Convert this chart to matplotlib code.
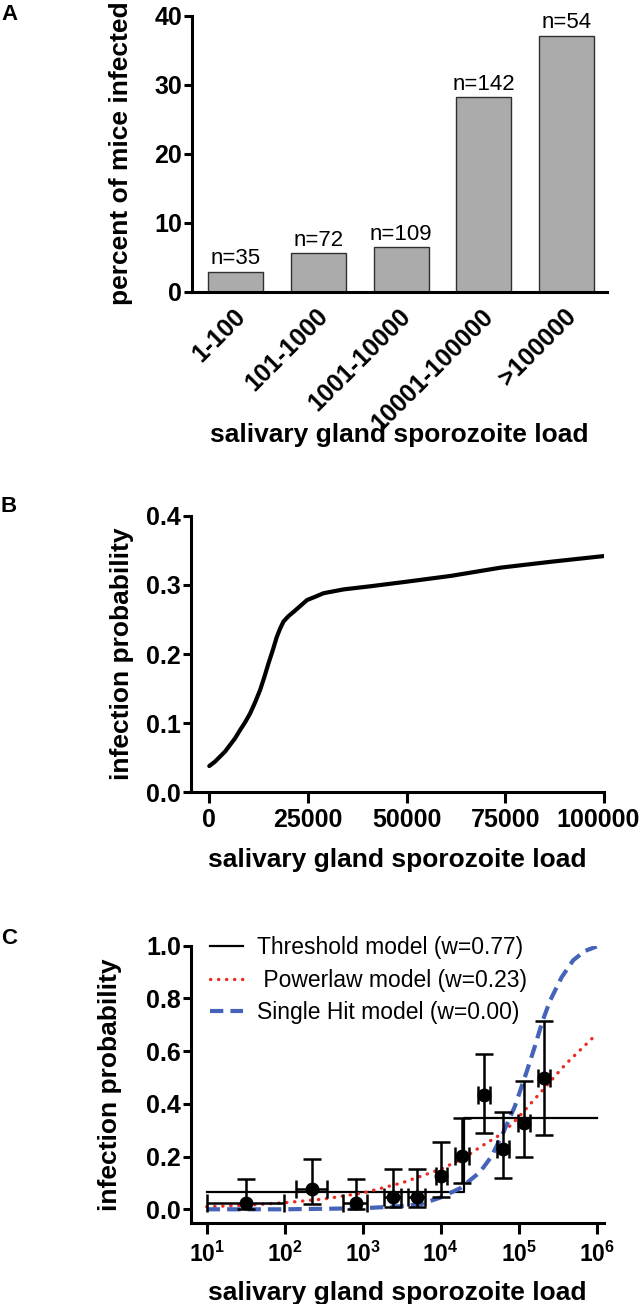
import matplotlib
matplotlib.use('Agg')
import matplotlib.pyplot as plt
import matplotlib.transforms as mtransforms

plt.rcParams['font.family'] = ['Liberation Sans', 'DejaVu Sans']
plt.rcParams['mathtext.fontset'] = 'custom'
plt.rcParams['mathtext.rm'] = 'Liberation Sans'
plt.rcParams['mathtext.bf'] = 'Liberation Sans:bold'
plt.rcParams['mathtext.it'] = 'Liberation Sans:italic'

# --- panel A: percent of mice infected per load bin ---
bins = ['1-100', '101-1000', '1001-10000', '10001-100000', '>100000']
pct_infected = [2.86, 5.56, 6.42, 28.17, 37.04]
n_mice = [35, 72, 109, 142, 54]

# --- panel B: infection probability curve ---
b_load = [0, 1440, 2710, 3980, 5250, 6530, 7800, 9070, 10340, 11610, 12880, 13980,
          15000, 16100, 17120, 17970, 18800, 20090, 21360, 23050, 24750, 26860,
          28980, 34070, 40850, 50000, 61200, 73900, 86650, 100000]
b_prob = [0.038, 0.0443, 0.0516, 0.0588, 0.0684, 0.0781, 0.090, 0.1012, 0.114, 0.1301,
          0.148, 0.1672, 0.1865, 0.2058, 0.225, 0.2371, 0.247, 0.2549, 0.261, 0.2694,
          0.278, 0.2829, 0.288, 0.2935, 0.298, 0.3046, 0.313, 0.325, 0.3335, 0.3417]

# --- panel C: binned data with errors and model fits ---
c_load = [32, 221, 817, 2480, 4940, 10200, 18600, 36300, 63500, 117000, 211000]
c_load_lo = [10, 140, 566, 1900, 3860, 8600, 15300, 30500, 53400, 98000, 177000]
c_load_hi = [99, 352, 1130, 3110, 6210, 12100, 22800, 43200, 75500, 139000, 251000]
c_prob = [0.023, 0.076, 0.023, 0.048, 0.048, 0.126, 0.202, 0.434, 0.228, 0.329, 0.499]
c_prob_lo = [0.0, 0.020, 0.0, 0.010, 0.010, 0.048, 0.101, 0.288, 0.120, 0.200, 0.282]
c_prob_hi = [0.114, 0.190, 0.114, 0.152, 0.152, 0.257, 0.348, 0.589, 0.370, 0.487, 0.716]

thr_load = [10, 20100, 20100, 1000000]
thr_prob = [0.0645, 0.0645, 0.348, 0.348]

pl_load = [10, 31.6, 100, 316, 1000, 3160, 10000, 20000, 31600, 63100, 100000,
           200000, 398000, 1000000]
pl_prob = [0.010, 0.015, 0.025, 0.039, 0.062, 0.100, 0.152, 0.195, 0.235, 0.290, 0.350,
           0.450, 0.550, 0.665]

sh_load = [10, 100, 1000, 3160, 5620, 10000, 17800, 31600, 44700, 63100, 89100,
           126000, 158000, 200000, 251000, 355000, 501000, 708000, 1000000]
sh_prob = [0.0, 0.0, 0.004, 0.012, 0.020, 0.045, 0.080, 0.140, 0.200, 0.290, 0.390,
           0.520, 0.610, 0.710, 0.790, 0.880, 0.945, 0.980, 0.997]

legend_labels = ['Threshold model (w=0.77)', ' Powerlaw model (w=0.23)', 'Single Hit model (w=0.00)']

TICK_FS = 18
LABEL_FS = 19
SPINE_W = 2.2


def style_axes(ax):
    for s in ['top', 'right']:
        ax.spines[s].set_visible(False)
    for s in ['left', 'bottom']:
        ax.spines[s].set_linewidth(SPINE_W)
    ax.tick_params(axis='y', direction='out', length=6, width=SPINE_W, pad=1,
                   labelsize=TICK_FS)
    ax.tick_params(axis='x', direction='out', length=8, width=SPINE_W, pad=3,
                   labelsize=TICK_FS)
    for lab in ax.get_xticklabels() + ax.get_yticklabels():
        lab.set_fontweight('bold')


fig = plt.figure(figsize=(6.43, 13.04), dpi=100)

# ---------------- A ----------------
axA = fig.add_axes([0.2981, 0.7763, 0.6463, 0.2117])
xs = list(range(len(bins)))
axA.bar(xs, pct_infected, width=0.665, color='#ababab', edgecolor='#303030', linewidth=1.0)
for x, h, n in zip(xs, pct_infected, n_mice):
    axA.annotate('n=%d' % n, (x, h), xytext=(0, 2), textcoords='offset points',
                 ha='center', va='bottom', fontsize=16)
axA.set_xlim(-0.533, 4.49)
axA.set_ylim(0, 40)
axA.set_yticks([0, 10, 20, 30, 40])
axA.set_xticks(xs)
axA.set_xticklabels(bins, rotation=45, ha='right', va='center', rotation_mode='anchor')
style_axes(axA)
axA.tick_params(axis='x', length=0, pad=15)
shift = mtransforms.ScaledTranslation(4 / 72, 0, fig.dpi_scale_trans)
for lab in axA.get_xticklabels():
    lab.set_transform(lab.get_transform() + shift)
axA.set_ylabel('percent of mice infected', fontsize=LABEL_FS, fontweight='bold')
axA.yaxis.set_label_coords(-0.141, 0.5)
axA.set_xlabel('salivary gland sporozoite load', fontsize=LABEL_FS, fontweight='bold', va='top')
axA.xaxis.set_label_coords(0.5, -0.475)

# ---------------- B ----------------
axB = fig.add_axes([0.2966, 0.3924, 0.6428, 0.2121])
axB.plot(b_load, b_prob, color='black', linewidth=3.0, solid_capstyle='round',
         solid_joinstyle='round')
axB.set_xlim(-4700, 100000)
axB.set_ylim(0, 0.4)
axB.set_xticks([0, 25000, 50000, 75000, 100000])
axB.set_xticklabels(['0', '25000', '50000', '75000', '100000'])
axB.set_yticks([0.0, 0.1, 0.2, 0.3, 0.4])
axB.set_yticklabels(['0.0', '0.1', '0.2', '0.3', '0.4'])
style_axes(axB)
# keep the last label inside the figure edge
last_shift = mtransforms.ScaledTranslation(-4 / 72, 0, fig.dpi_scale_trans)
lastlab = axB.get_xticklabels()[-1]
lastlab.set_transform(lastlab.get_transform() + last_shift)
axB.set_ylabel('infection probability', fontsize=LABEL_FS, fontweight='bold')
axB.yaxis.set_label_coords(-0.137, 0.5)
axB.set_xlabel('salivary gland sporozoite load', fontsize=LABEL_FS, fontweight='bold', va='top')
axB.xaxis.set_label_coords(0.5, -0.2)

# ---------------- C ----------------
axC = fig.add_axes([0.2966, 0.0619, 0.6428, 0.2129])
axC.set_xscale('log')
h_thr, = axC.plot(thr_load, thr_prob, color='black', linewidth=1.6)
h_pl, = axC.plot(pl_load, pl_prob, color='#ee2b22', linewidth=2.4,
                 linestyle=(0, (0.1, 2.3)), dash_capstyle='round')
h_sh, = axC.plot(sh_load, sh_prob, color='#4463b9', linewidth=3.0,
                 linestyle=(0, (3.2, 1.7)))
yerr = [[p - lo for p, lo in zip(c_prob, c_prob_lo)],
        [hi - p for p, hi in zip(c_prob, c_prob_hi)]]
xerr = [[x - lo for x, lo in zip(c_load, c_load_lo)],
        [hi - x for x, hi in zip(c_load, c_load_hi)]]
axC.errorbar(c_load, c_prob, yerr=yerr, xerr=xerr, fmt='o', color='black', ms=9,
             elinewidth=1.8, capsize=6.5, capthick=1.8, zorder=5)
axC.set_xlim(10 ** 0.795, 10 ** 6.094)
axC.set_ylim(-0.053, 1.0)
axC.set_xticks([10, 100, 1000, 10000, 100000, 1000000])
axC.set_xticklabels([r'$\mathbf{10^{%d}}$' % k for k in range(1, 7)])
axC.minorticks_off()
axC.set_yticks([0.0, 0.2, 0.4, 0.6, 0.8, 1.0])
axC.set_yticklabels(['0.0', '0.2', '0.4', '0.6', '0.8', '1.0'])
style_axes(axC)
axC.tick_params(axis='x', labelsize=16.5, pad=5)
axC.spines['left'].set_bounds(-0.053, 1.0)
axC.set_ylabel('infection probability', fontsize=LABEL_FS, fontweight='bold')
axC.yaxis.set_label_coords(-0.166, 0.5)
axC.set_xlabel('salivary gland sporozoite load', fontsize=LABEL_FS, fontweight='bold', va='top')
axC.xaxis.set_label_coords(0.5, -0.208)
fig.legend([h_thr, h_pl, h_sh], legend_labels, loc='upper left',
           bbox_to_anchor=(210 / 643, 1 - 936 / 1304), frameon=False, fontsize=16.5,
           handlelength=1.45, handletextpad=0.6, labelspacing=0.42, borderpad=0,
           borderaxespad=0)

# panel letters
for letter, ypx in [('A', 14), ('B', 506), ('C', 938)]:
    fig.text(1 / 643, 1 - ypx / 1304, letter, fontsize=16, fontweight='bold',
             ha='left', va='center')

fig.savefig('out.png', dpi=100)
